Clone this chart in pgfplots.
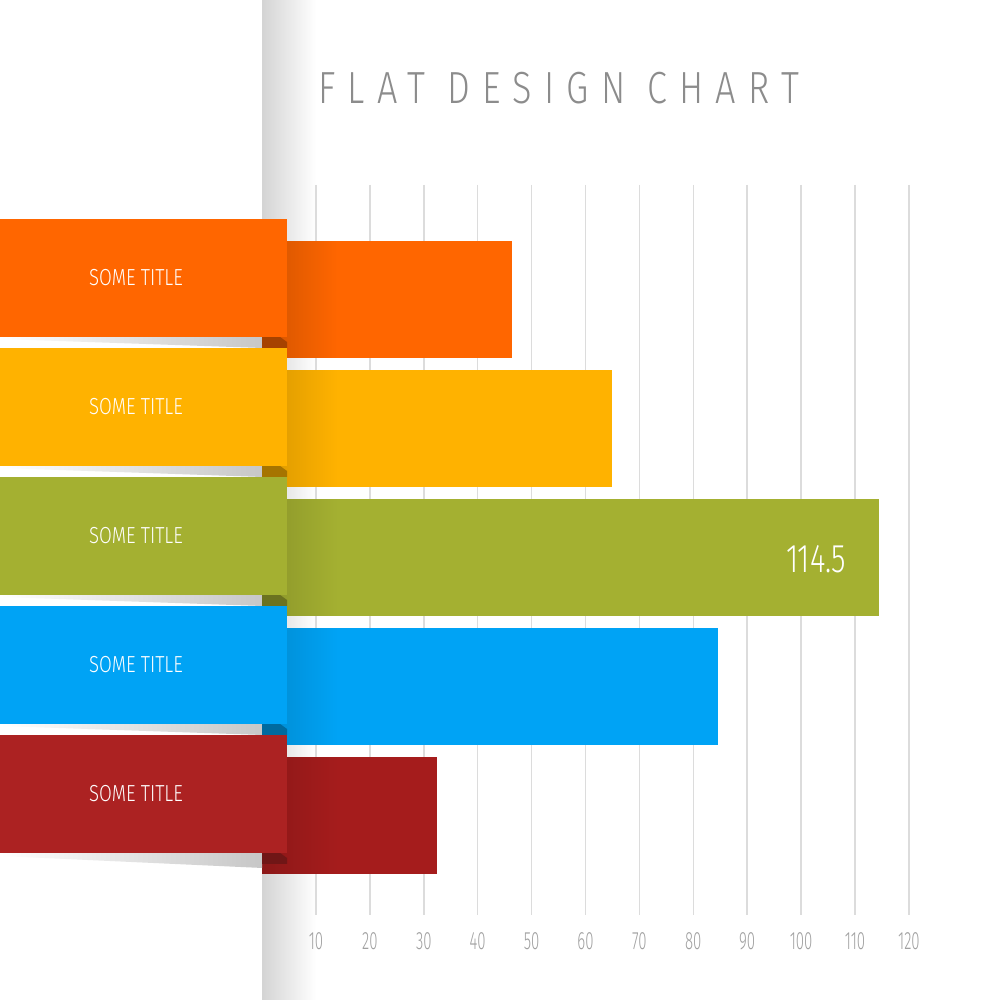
\documentclass[border=0pt]{standalone}
\usepackage{pgfplots}
\pgfplotsset{compat=1.18}
\usepackage{fontspec}
\setmainfont{Fira Sans Light}
\newfontfamily\titlefont[FakeStretch=0.8, LetterSpace=27]{Fira Sans Light}
\newfontfamily\labfont[FakeStretch=0.8]{Fira Sans Light}
\newfontfamily\tickfont[FakeStretch=0.6]{Fira Sans Light}
\newfontfamily\valfont[FakeStretch=0.74]{Fira Sans Light}
\definecolor{corange}{HTML}{FF6600}
\definecolor{cyellow}{HTML}{FFB200}
\definecolor{cgreen}{HTML}{A4B031}
\definecolor{cblue}{HTML}{00A3F5}
\definecolor{cred}{HTML}{AC2222}
\definecolor{credbar}{HTML}{A51C1C}
\definecolor{tickgray}{HTML}{A0A0A0}
\definecolor{gridgray}{HTML}{DCDCDC}
\definecolor{titlegray}{HTML}{8C8C8C}
\begin{document}
\begin{tikzpicture}
\begin{axis}[
 set layers,
 scale only axis, width=368.95pt, height=365pt,
 xmin=0, xmax=136.9, ymin=185, ymax=915, y dir=reverse,
 clip=false,
 axis line style={draw=none}, tick style={draw=none},
 ytick=\empty,
 xtick={10,20,30,40,50,60,70,80,90,100,110,120},
 xticklabels={10,20,30,40,50,60,70,80,90,100,110,120},
 xticklabel style={anchor=center, yshift=-13pt, font=\tickfont\fontsize{12.5}{13}\selectfont, text=tickgray},
 xmajorgrids, grid style={gridgray, line width=0.75pt},
]
% background
\addplot[on layer=axis background, draw=none, fill=white] coordinates {(-48.63,0) (136.9,0) (136.9,1000) (-48.63,1000)} --cycle;
\addplot[on layer=axis background, draw=none, left color=black!17, right color=white] coordinates {(0,0) (10,0) (10,1000) (0,1000)} --cycle;
% bars
\addplot[xbar, bar shift=0pt, bar width=117, draw=none, fill=corange] coordinates {(46.3,299.5)};
\addplot[xbar, bar shift=0pt, bar width=117, draw=none, fill=cyellow] coordinates {(65.0,428.5)};
\addplot[xbar, bar shift=0pt, bar width=117, draw=none, fill=cgreen] coordinates {(114.5,557.5)};
\addplot[xbar, bar shift=0pt, bar width=117, draw=none, fill=cblue] coordinates {(84.6,686.5)};
\addplot[xbar, bar shift=0pt, bar width=117, draw=none, fill=credbar] coordinates {(32.4,815.5)};
% bar shading near tabs
\addplot[xbar, bar shift=0pt, bar width=115.5, draw=none, left color=corange!82!black, right color=corange] coordinates {(14,299.5)};
\addplot[xbar, bar shift=0pt, bar width=115.5, draw=none, left color=cyellow!85!black, right color=cyellow] coordinates {(14,428.5)};
\addplot[xbar, bar shift=0pt, bar width=115.5, draw=none, left color=cgreen!85!black, right color=cgreen] coordinates {(14,557.5)};
\addplot[xbar, bar shift=0pt, bar width=115.5, draw=none, left color=cblue!85!black, right color=cblue] coordinates {(14,686.5)};
\addplot[xbar, bar shift=0pt, bar width=115.5, draw=none, left color=credbar!85!black, right color=credbar] coordinates {(14,815.5)};
% shadow wedges below tabs
\addplot[draw=none, left color=white, right color=black!22] coordinates {(-48.63,337) (0,337) (0,348) (-48.63,339)} --cycle;
\addplot[draw=none, left color=white, right color=black!22] coordinates {(-48.63,466) (0,466) (0,477) (-48.63,468)} --cycle;
\addplot[draw=none, left color=white, right color=black!22] coordinates {(-48.63,595) (0,595) (0,606) (-48.63,597)} --cycle;
\addplot[draw=none, left color=white, right color=black!22] coordinates {(-48.63,724) (0,724) (0,735) (-48.63,726)} --cycle;
\addplot[draw=none, left color=white, right color=black!22] coordinates {(-48.63,853) (0,853) (0,868) (-48.63,856)} --cycle;
% folds
\addplot[draw=none, fill=corange!65!black] coordinates {(0,337) (3.34,337) (4.62,342) (4.62,348) (0,348)} --cycle;
\addplot[draw=none, fill=cyellow!65!black] coordinates {(0,466) (3.34,466) (4.62,471) (4.62,477) (0,477)} --cycle;
\addplot[draw=none, fill=cgreen!65!black] coordinates {(0,595) (3.34,595) (4.62,600) (4.62,606) (0,606)} --cycle;
\addplot[draw=none, fill=cblue!65!black] coordinates {(0,724) (3.34,724) (4.62,729) (4.62,735) (0,735)} --cycle;
\addplot[draw=none, fill=cred!65!black] coordinates {(0,853) (3.34,853) (4.62,858) (4.62,864) (0,864)} --cycle;
% tabs
\addplot[draw=none, fill=corange] coordinates {(-48.63,219) (4.62,219) (4.62,337) (-48.63,337)} --cycle;
\addplot[draw=none, fill=cyellow] coordinates {(-48.63,348) (4.62,348) (4.62,466) (-48.63,466)} --cycle;
\addplot[draw=none, fill=cgreen] coordinates {(-48.63,477) (4.62,477) (4.62,595) (-48.63,595)} --cycle;
\addplot[draw=none, fill=cblue] coordinates {(-48.63,606) (4.62,606) (4.62,724) (-48.63,724)} --cycle;
\addplot[draw=none, fill=cred] coordinates {(-48.63,735) (4.62,735) (4.62,853) (-48.63,853)} --cycle;
% texts
\node[font=\labfont\fontsize{11.6}{12}\selectfont, text=white] at (axis cs:-23.4,278) {SOME TITLE};
\node[font=\labfont\fontsize{11.6}{12}\selectfont, text=white] at (axis cs:-23.4,407) {SOME TITLE};
\node[font=\labfont\fontsize{11.6}{12}\selectfont, text=white] at (axis cs:-23.4,536) {SOME TITLE};
\node[font=\labfont\fontsize{11.6}{12}\selectfont, text=white] at (axis cs:-23.4,665) {SOME TITLE};
\node[font=\labfont\fontsize{11.6}{12}\selectfont, text=white] at (axis cs:-23.4,794) {SOME TITLE};
\node[font=\valfont\fontsize{20}{20}\selectfont, text=white] at (axis cs:102.8,559) {114.5};
\node[font=\titlefont\fontsize{22.5}{24}\selectfont, text=titlegray, anchor=west, inner sep=0pt] at (axis cs:10.37,88) {FLAT DESIGN CHART};
\end{axis}
\end{tikzpicture}
\end{document}
